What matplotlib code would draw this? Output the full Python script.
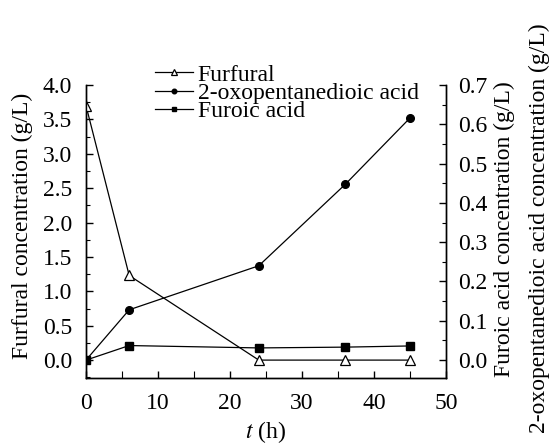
import numpy as np
import matplotlib.pyplot as plt
from matplotlib.ticker import MultipleLocator

plt.rcParams['font.family'] = ['Liberation Serif', 'DejaVu Serif']
plt.rcParams['mathtext.fontset'] = 'stix'

## -------------------- data ------------------- ##
t = [0, 6, 24, 36, 45]
furfural = [3.70, 1.23, 0.0, 0.0, 0.0]          # left axis (g/L)
oxo_acid = [0.0, 0.128, 0.240, 0.447, 0.616]    # right axis (g/L)
furoic_acid = [0.0, 0.037, 0.031, 0.033, 0.036] # right axis (g/L)

FS = 17

fig = plt.figure(figsize=(5.53, 4.46), dpi=100)
ax = fig.add_axes([0.1555, 0.1525, 0.651, 0.657])
ax2 = ax.twinx()

l1, = ax.plot(t, furfural, color='black', lw=0.9, marker='^', ms=7,
              mfc='white', mec='black', mew=0.9, label='Furfural')
l2, = ax2.plot(t, oxo_acid, color='black', lw=0.9, marker='o', ms=5.5,
               label='2-oxopentanedioic acid')
l3, = ax2.plot(t, furoic_acid, color='black', lw=0.9, marker='s', ms=5.5,
               label='Furoic acid')
ax.set_zorder(ax2.get_zorder() + 1)
ax.patch.set_visible(False)

ax.set_xlim(0, 50)
ax.set_ylim(-0.26, 4.0)
ax2.set_ylim(-0.0455, 0.7)

ax.xaxis.set_major_locator(MultipleLocator(10))
ax.xaxis.set_minor_locator(MultipleLocator(5))
ax.yaxis.set_major_locator(MultipleLocator(0.5))
ax.yaxis.set_minor_locator(MultipleLocator(0.25))
ax2.yaxis.set_major_locator(MultipleLocator(0.1))
ax2.yaxis.set_minor_locator(MultipleLocator(0.05))
ax.yaxis.set_major_formatter(plt.FormatStrFormatter('%.1f'))
ax2.yaxis.set_major_formatter(plt.FormatStrFormatter('%.1f'))

for a in (ax, ax2):
    a.spines['top'].set_visible(False)
    for s in a.spines.values():
        s.set_linewidth(1.0)
    a.tick_params(which='major', direction='in', length=5, width=1.0,
                  labelsize=FS)
    a.tick_params(which='minor', direction='in', length=3, width=0.8)
ax.tick_params(axis='x', which='both', length=5)
ax.tick_params(axis='x', pad=11)
ax.tick_params(axis='y', pad=10)
ax2.tick_params(axis='y', pad=9)

fig.text(0.040, 0.493, 'Furfural concentration (g/L)', rotation=90,
         ha='center', va='center', fontsize=FS)
fig.text(0.913, 0.487, 'Furoic acid concentration (g/L)', rotation=90,
         ha='center', va='center', fontsize=FS)
fig.text(0.976, 0.489, '2-oxopentanedioic acid concentration (g/L)', rotation=90,
         ha='center', va='center', fontsize=FS)
fig.text(0.481, 0.003, '$t$ (h)', ha='center', va='bottom', fontsize=FS)

leg = ax.legend(handles=[l1, l2, l3], loc='upper left',
                bbox_to_anchor=(155 / 553, 1 - 64 / 446),
                bbox_transform=fig.transFigure, frameon=False, fontsize=FS,
                handlelength=1.6, handletextpad=0.2, labelspacing=-0.13,
                markerscale=0.6, borderpad=0, borderaxespad=0)

fig.savefig('out.png', dpi=100)
